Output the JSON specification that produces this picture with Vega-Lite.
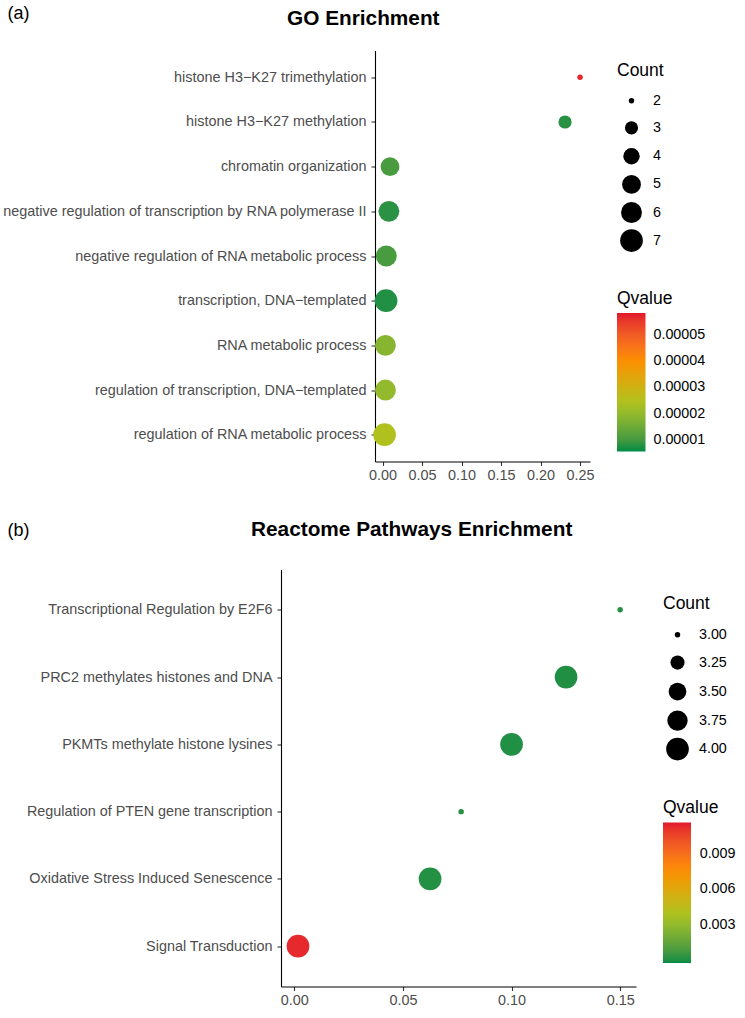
{
  "$schema": "https://vega.github.io/schema/vega-lite/v6.json",
  "background": "white",
  "padding": {"left": 2, "top": 3.5, "right": 5, "bottom": 5},
  "spacing": 36,
  "resolve": {
    "scale": {"color": "independent", "size": "independent"},
    "legend": {"color": "independent", "size": "independent"}
  },
  "config": {
    "font": "Liberation Sans",
    "view": {"stroke": null},
    "axis": {
      "grid": false,
      "domainColor": "black",
      "domainWidth": 1.1,
      "tickColor": "#333333",
      "tickWidth": 1.1,
      "tickSize": 4,
      "labelColor": "#4D4D4D",
      "labelFont": "Liberation Sans",
      "labelFontSize": 14.4
    },
    "legend": {
      "titleFont": "Liberation Sans",
      "titleFontSize": 17.5,
      "titleFontWeight": "normal",
      "titleColor": "black",
      "labelFont": "Liberation Sans",
      "labelFontSize": 14.3,
      "labelColor": "black",
      "padding": 0,
      "titlePadding": 6,
      "rowPadding": 5.3,
      "labelOffset": 10,
      "symbolOffset": 3
    },
    "title": {
      "font": "Liberation Sans",
      "fontSize": 20.8,
      "fontWeight": "bold",
      "color": "black"
    }
  },
  "vconcat": [
    {
      "width": 309,
      "height": 411,
      "title": {"text": "GO Enrichment", "anchor": "start", "frame": "group", "dx": 6, "offset": -25.5},
      "data": {
        "values": [
          {"term": "histone H3−K27 trimethylation", "ratio": 0.25, "Count": 2, "Qvalue": 0.0000569},
          {"term": "histone H3−K27 methylation", "ratio": 0.231, "Count": 3, "Qvalue": 0.0000075},
          {"term": "chromatin organization", "ratio": 0.0095, "Count": 5, "Qvalue": 0.0000105},
          {"term": "negative regulation of transcription by RNA polymerase II", "ratio": 0.0081, "Count": 6, "Qvalue": 0.0000078},
          {"term": "negative regulation of RNA metabolic process", "ratio": 0.0048, "Count": 6, "Qvalue": 0.0000105},
          {"term": "transcription, DNA−templated", "ratio": 0.0045, "Count": 7, "Qvalue": 0.000007},
          {"term": "RNA metabolic process", "ratio": 0.0037, "Count": 6, "Qvalue": 0.0000185},
          {"term": "regulation of transcription, DNA−templated", "ratio": 0.0037, "Count": 6, "Qvalue": 0.00002},
          {"term": "regulation of RNA metabolic process", "ratio": 0.0026, "Count": 7, "Qvalue": 0.0000246}
        ]
      },
      "mark": {"type": "point", "filled": true, "opacity": 1},
      "encoding": {
        "y": {
          "field": "term", "type": "nominal", "sort": null,
          "scale": {"type": "point", "padding": 0.6},
          "axis": {
            "title": "(a)", "titleAngle": 0, "titleX": -368, "titleY": -37.5,
            "titleAlign": "left", "titleBaseline": "middle", "titleFontSize": 18,
            "titleFontWeight": "normal", "titleColor": "black",
            "offset": -94, "labelPadding": 5, "labelLimit": 500
          }
        },
        "x": {
          "field": "ratio", "type": "quantitative",
          "scale": {"domain": [-0.0095, 0.2626], "range": [94, 309], "nice": false, "zero": false},
          "axis": {"title": null, "values": [0, 0.05, 0.1, 0.15, 0.2, 0.25], "format": ".2f", "labelPadding": 3}
        },
        "size": {
          "field": "Count", "type": "quantitative",
          "scale": {"domain": [2, 3, 4, 5, 6, 7], "range": [30, 174, 268, 354, 436, 515]},
          "legend": {
            "values": [2, 3, 4, 5, 6, 7], "format": "d", "orient": "none", "legendX": 336, "legendY": 11,
            "gridAlign": "all", "titlePadding": 14.6, "rowPadding": 4.1,
            "symbolFillColor": "black", "symbolStrokeWidth": 0, "symbolOpacity": 1
          }
        },
        "color": {
          "field": "Qvalue", "type": "quantitative",
          "scale": {"domain": [0.00000575, 0.0000582], "range": ["#008B45", "#A8C520", "#FF8C00", "#E3172E"], "interpolate": "lab", "nice": false, "zero": false},
          "legend": {
            "orient": "none", "legendX": 336, "legendY": 239,
            "values": [0.00001, 0.00002, 0.00003, 0.00004, 0.00005], "format": ".5f",
            "gradientLength": 138.4, "gradientThickness": 28.5, "labelOffset": 8
          }
        }
      }
    },
    {
      "width": 355,
      "height": 417,
      "title": {"text": "Reactome Pathways Enrichment", "anchor": "start", "frame": "group", "dx": -30, "offset": -20},
      "data": {
        "values": [
          {"term": "Transcriptional Regulation by E2F6", "ratio": 0.15, "Count": 3, "Qvalue": 0.0001},
          {"term": "PRC2 methylates histones and DNA", "ratio": 0.1251, "Count": 4, "Qvalue": 0.00007},
          {"term": "PKMTs methylate histone lysines", "ratio": 0.1, "Count": 4, "Qvalue": 0.00008},
          {"term": "Regulation of PTEN gene transcription", "ratio": 0.0768, "Count": 3, "Qvalue": 0.00015},
          {"term": "Oxidative Stress Induced Senescence", "ratio": 0.0625, "Count": 4, "Qvalue": 0.00012},
          {"term": "Signal Transduction", "ratio": 0.0017, "Count": 4, "Qvalue": 0.0113}
        ]
      },
      "mark": {"type": "point", "filled": true, "opacity": 1},
      "encoding": {
        "y": {
          "field": "term", "type": "nominal", "sort": null,
          "scale": {"type": "point", "padding": 0.6},
          "axis": {
            "title": "(b)", "titleAngle": 0, "titleX": -274, "titleY": -39.3,
            "titleAlign": "left", "titleBaseline": "middle", "titleFontSize": 18,
            "titleFontWeight": "normal", "titleColor": "black",
            "labelPadding": 5, "labelLimit": 500
          }
        },
        "x": {
          "field": "ratio", "type": "quantitative",
          "scale": {"domain": [-0.00613, 0.1573], "nice": false, "zero": false},
          "axis": {"title": null, "values": [0, 0.05, 0.1, 0.15], "format": ".2f", "labelPadding": 3}
        },
        "size": {
          "field": "Count", "type": "quantitative",
          "scale": {"domain": [3, 3.25, 3.5, 3.75, 4], "range": [30, 199, 312, 416, 515]},
          "legend": {
            "values": [3, 3.25, 3.5, 3.75, 4], "format": ".2f", "orient": "none", "legendX": 382, "legendY": 25,
            "gridAlign": "all", "titlePadding": 15.6, "rowPadding": 4.5,
            "symbolFillColor": "black", "symbolStrokeWidth": 0, "symbolOpacity": 1
          }
        },
        "color": {
          "field": "Qvalue", "type": "quantitative",
          "scale": {"domain": [-0.00021, 0.01161], "range": ["#008B45", "#A8C520", "#FF8C00", "#E3172E"], "interpolate": "lab", "nice": false, "zero": false},
          "legend": {
            "orient": "none", "legendX": 382, "legendY": 229.5,
            "values": [0.003, 0.006, 0.009], "format": ".3f",
            "gradientLength": 140.6, "gradientThickness": 28, "labelOffset": 8.7
          }
        }
      }
    }
  ]
}
